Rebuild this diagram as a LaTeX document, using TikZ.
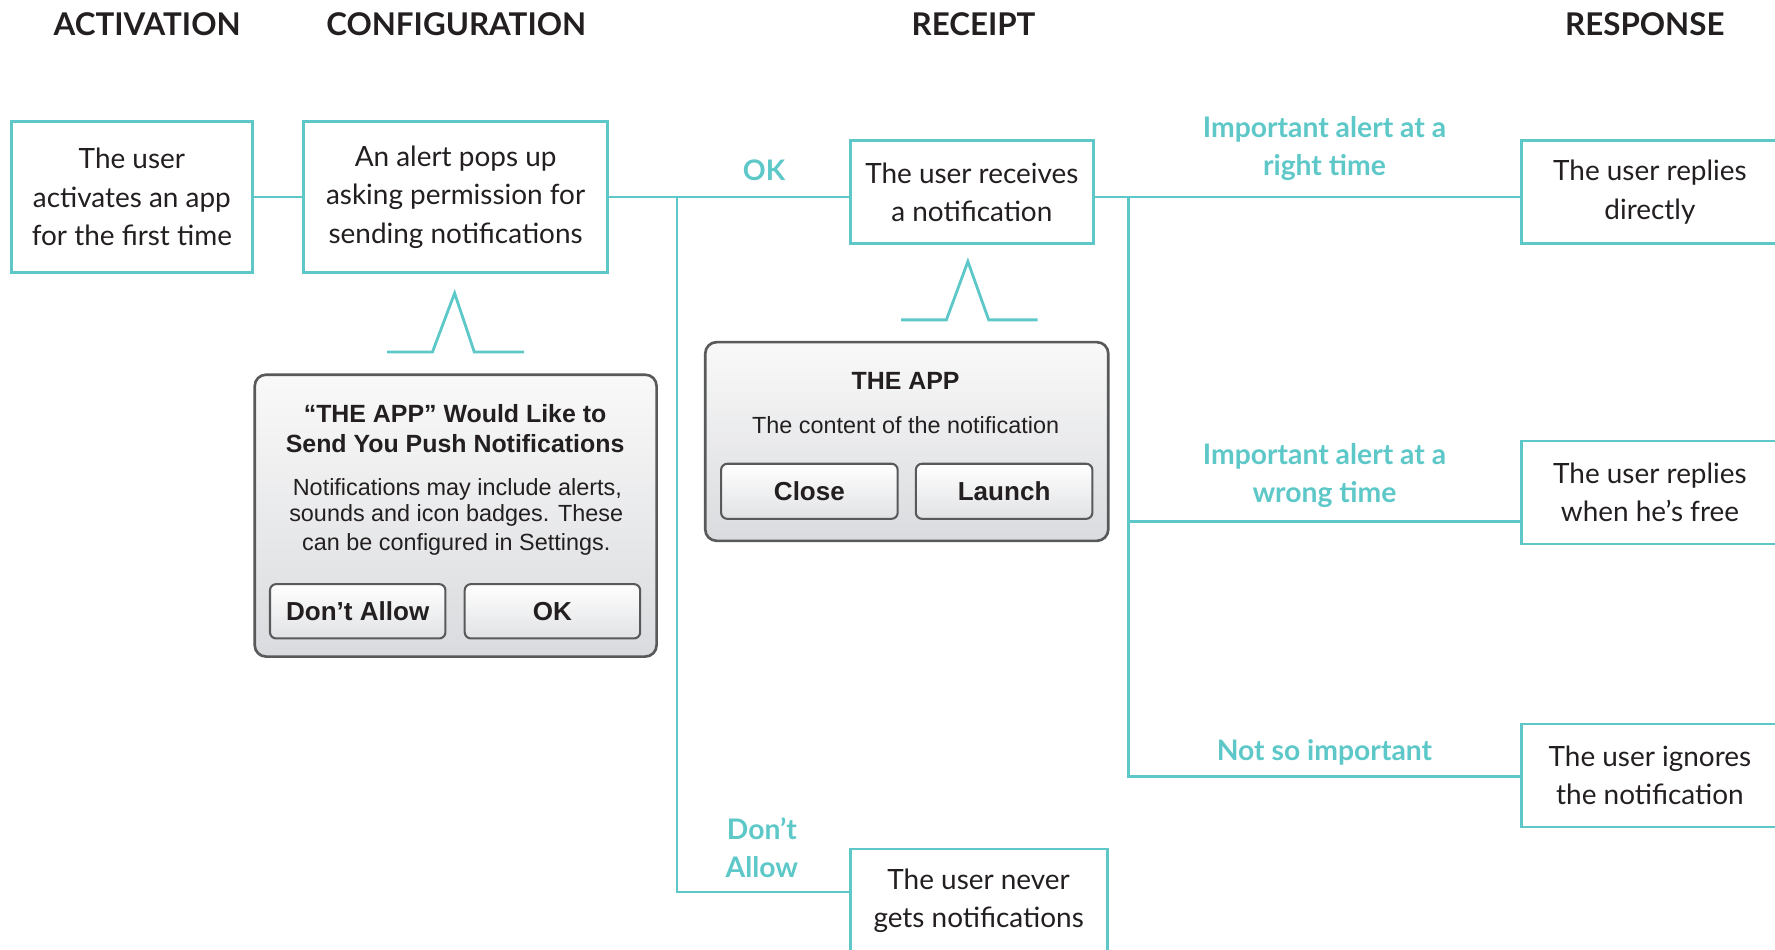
\documentclass[tikz,border=0pt]{standalone}
\usepackage{fontspec}
\setmainfont{Lato}
\newfontfamily\uifont{Liberation Sans}
\definecolor{flow}{HTML}{5EC8C9}
\definecolor{ink}{HTML}{231F20}
\definecolor{frame}{HTML}{58595B}
\definecolor{panetop}{HTML}{F9F9F9}
\definecolor{panebot}{HTML}{DADBDE}
\definecolor{btnbot}{HTML}{E1E2E4}

\begin{document}
\begin{tikzpicture}[x=0.6pt,y=-0.6pt,
  link/.style={draw=flow,line width=1.5pt},
  stepbox/.style={draw=flow,line width=1.5pt,fill=white,align=center,text=ink,
    font=\fontsize{14.8}{20.4}\selectfont,inner sep=0pt},
  head/.style={font=\fontsize{16.6}{18}\selectfont\bfseries,text=ink},
  choice/.style={font=\fontsize{15}{20.4}\selectfont\bfseries,text=flow,align=center},
  dialog/.style={draw=frame,line width=1.4pt,rounded corners=6pt,
    top color=panetop,bottom color=panebot,inner sep=0pt},
  button/.style={draw=frame,line width=1.1pt,rounded corners=3.3pt,
    top color=white,bottom color=btnbot,inner sep=0pt,
    font=\uifont\fontsize{13.8}{16}\selectfont\bfseries,text=ink},
  uititle/.style={font=\uifont\fontsize{13.2}{16}\selectfont\bfseries,text=ink,anchor=base},
  uibody/.style={font=\uifont\fontsize{12.4}{15}\selectfont,text=ink,anchor=base},
]
\clip (0,0) rectangle (1568,839);

% column headings
\node[head] (h1) at (130,21) {ACTIVATION};
\node[head] (h2) at (403,21) {CONFIGURATION};
\node[head] (h3) at (860,21) {RECEIPT};
\node[head] (h4) at (1453,21) {RESPONSE};

% steps
\node[stepbox,minimum width=127.8pt,minimum height=80.4pt] (b1) at (116.5,174)
  {The user\\activates an app\\for the first time};
\node[stepbox,minimum width=161.4pt,minimum height=80.4pt] (b2) at (402.5,174)
  {An alert pops up\\asking permission for\\sending notifications};
\node[stepbox,minimum width=129pt,minimum height=54.6pt] (b3) at (858.5,169.7)
  {The user receives\\a notification};
\node[stepbox,minimum width=136.2pt,minimum height=54.6pt] (b4) at (864.5,795.5)
  {The user never\\gets notifications};
\node[stepbox,minimum width=136.2pt,minimum height=54.6pt] (r1) at (1457.5,169.5)
  {The user replies\\directly};
\node[stepbox,minimum width=136.2pt,minimum height=54.6pt] (r2) at (1457.5,435)
  {The user replies\\when he’s free};
\node[stepbox,minimum width=136.2pt,minimum height=54.6pt] (r3) at (1457.5,685)
  {The user ignores\\the notification};

% branch points
\coordinate (j1) at (598,174);
\coordinate (n1) at (598,788);
\coordinate (j2) at (997,174);
\coordinate (k2) at (997,461);
\coordinate (k3) at (997,686);

% connectors
\draw[link] (b1.east) -- (b2.west);
\draw[link] (b2.east) -- (b3.west |- b2.east);
\draw[link] (j1) -- (n1) -- (b4.west |- n1);
\draw[link] (b3.east |- j2) -- (r1.west |- j2);
\draw[link] (j2) -- (k3) -- (r3.west |- k3);
\draw[link] (k2) -- (r2.west |- k2);

% branch labels
\node[choice] (lok) at (675,150) {OK};
\node[choice] (lno) at (673,749) {Don’t\\Allow};
\node[choice] (la) at (1170,131) {Important alert at a\\right time};
\node[choice] (lb) at (1170,420) {Important alert at a\\wrong time};
\node[choice] (lc) at (1170,665) {Not so important};

% pointers to the screens
\draw[link] (342,311) -- (382,311) -- (401.6,259) -- (419,311) -- (463,311);
\draw[link] (796,282.6) -- (836,282.6) -- (855,231) -- (873.4,282.6) -- (916.7,282.6);

% permission alert
\node[dialog,minimum width=213pt,minimum height=149.4pt] (d1) at (402.5,455.5) {};
\node[uititle] (d1t1) at (402,373.6) {“THE APP” Would Like to};
\node[uititle] (d1t2) at (402,400.1) {Send You Push Notifications};
\node[uibody] (d1b1) at (404,437.4) {Notifications may include alerts,};
\node[uibody] (d1b2) at (403,460.9) {sounds and icon badges. These};
\node[uibody] (d1b3) at (403,485.9) {can be configured in Settings.};
\node[button,minimum width=93pt,minimum height=28.8pt] (bno) at (316,540) {Don’t Allow};
\node[button,minimum width=93pt,minimum height=28.8pt] (bok) at (488,540) {OK};

% notification alert
\node[dialog,minimum width=213.6pt,minimum height=105.3pt] (d2) at (801,390) {};
\node[uititle] (d2t) at (800,344.3) {THE APP};
\node[uibody] (d2b) at (800,383.3) {The content of the notification};
\node[button,minimum width=93.6pt,minimum height=29.2pt] (bcl) at (715,434) {Close};
\node[button,minimum width=93.6pt,minimum height=29.2pt] (bla) at (887,434) {Launch};
\end{tikzpicture}
\end{document}
